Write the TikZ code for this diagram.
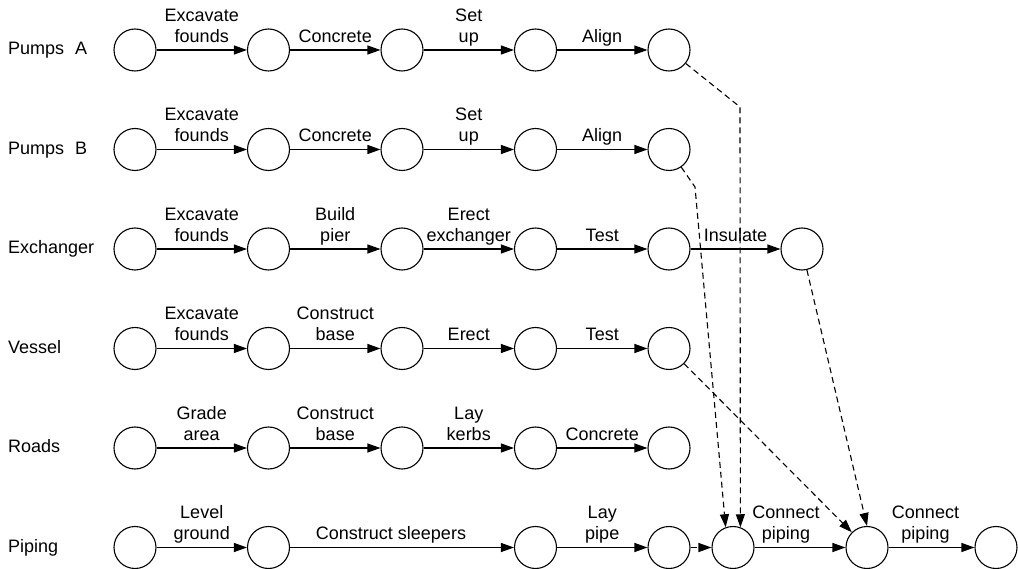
\documentclass[tikz,border=0pt]{standalone}
\usepackage{fontspec}
\setmainfont{Liberation Sans}
\usetikzlibrary{arrows.meta}
\begin{document}
\begin{tikzpicture}[x=1pt,y=-1pt,
 ev/.style={circle,draw,line width=1.1pt,minimum size=42pt,inner sep=0pt},
 act/.style={-{Triangle[length=13pt,width=9pt]},line width=1.1pt},
 dep/.style={act,dash pattern=on 6pt off 4pt},
 lbl/.style={midway,anchor=south,inner sep=0pt,yshift=7pt,align=center,text depth=0pt,font=\fontsize{18}{21}\selectfont},
 rowlbl/.style={anchor=base west,inner sep=0pt,font=\fontsize{18}{21}\selectfont}]
\useasboundingbox (0,0) rectangle (1018,569);

\foreach \r/\y in {a/50,b/149.5,e/249,v/348.5,r/448}{
  \foreach \i/\x in {1/135,2/268.5,3/402,4/535.5,5/669}{
    \node[ev] (\r\i) at (\x,\y) {};
  }
}
\node[ev] (e6) at (802,249) {};
\node[ev] (p1) at (135,547.5) {};
\node[ev] (p2) at (268.5,547.5) {};
\node[ev] (p3) at (535.5,547.5) {};
\node[ev] (p4) at (669,547.5) {};
\node[ev] (p5) at (733,547.5) {};
\node[ev] (p6) at (867,547.5) {};
\node[ev] (p7) at (996,547.5) {};

% row labels
\node[rowlbl] (la) at (8,55) {Pumps\hspace{0.6em}A};
\node[rowlbl] (lb) at (8,154.5) {Pumps\hspace{0.6em}B};
\node[rowlbl] (le) at (8,254) {Exchanger};
\node[rowlbl] (lv) at (8,353.5) {Vessel};
\node[rowlbl] (lr) at (8,453) {Roads};
\node[rowlbl] (lp) at (8,552.5) {Piping};

% Pumps A
\draw[act] (a1) -- node[lbl]{Excavate\\founds} (a2);
\draw[act] (a2) -- node[lbl]{Concrete} (a3);
\draw[act] (a3) -- node[lbl]{Set\\up} (a4);
\draw[act] (a4) -- node[lbl]{Align} (a5);
% Pumps B
\draw[act] (b1) -- node[lbl]{Excavate\\founds} (b2);
\draw[act] (b2) -- node[lbl]{Concrete} (b3);
\draw[act] (b3) -- node[lbl]{Set\\up} (b4);
\draw[act] (b4) -- node[lbl]{Align} (b5);
% Exchanger
\draw[act] (e1) -- node[lbl]{Excavate\\founds} (e2);
\draw[act] (e2) -- node[lbl]{Build\\pier} (e3);
\draw[act] (e3) -- node[lbl]{Erect\\exchanger} (e4);
\draw[act] (e4) -- node[lbl]{Test} (e5);
\draw[act] (e5) -- node[lbl]{Insulate} (e6);
% Vessel
\draw[act] (v1) -- node[lbl]{Excavate\\founds} (v2);
\draw[act] (v2) -- node[lbl]{Construct\\base} (v3);
\draw[act] (v3) -- node[lbl]{Erect} (v4);
\draw[act] (v4) -- node[lbl]{Test} (v5);
% Roads
\draw[act] (r1) -- node[lbl]{Grade\\area} (r2);
\draw[act] (r2) -- node[lbl]{Construct\\base} (r3);
\draw[act] (r3) -- node[lbl]{Lay\\kerbs} (r4);
\draw[act] (r4) -- node[lbl]{Concrete} (r5);
% Piping
\draw[act] (p1) -- node[lbl]{Level\\ground} (p2);
\draw[act] (p2) -- node[lbl,xshift=-11pt]{Construct sleepers} (p3);
\draw[act] (p3) -- node[lbl]{Lay\\pipe} (p4);
\draw[dep] (p4) -- (p5);
\draw[act] (p5) -- node[lbl,xshift=-14pt]{Connect\\piping} (p6);
\draw[act] (p6) -- node[lbl,xshift=-6pt]{Connect\\piping} (p7);

% dependencies
\coordinate (ka) at (740,107);
\coordinate (kb) at (695,187);
\draw[dep] (a5) -- (ka) -- (p5.70);
\draw[dep] (b5) -- (kb) -- (p5.110);
\draw[dep] (e6) -- (p6.north);
\draw[dep] (v5) -- (p6);
\end{tikzpicture}
\end{document}
